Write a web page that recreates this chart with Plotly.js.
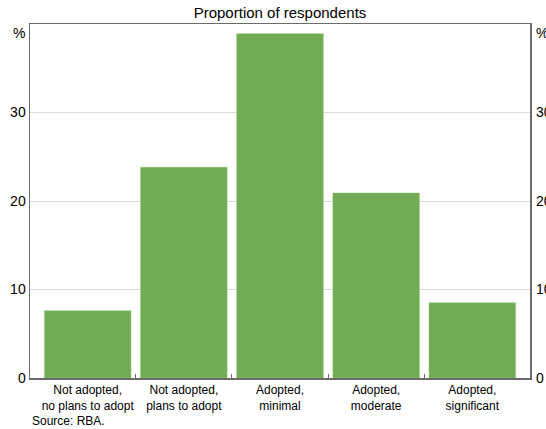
<!DOCTYPE html>
<html>
<head>
<meta charset="utf-8">
<script src="https://cdn.plot.ly/plotly-3.0.1.min.js"></script>
<style>html,body{margin:0;padding:0;background:#fff;}#chart{width:546px;height:429px;}</style>
</head>
<body>
<div id="chart"></div>
<script>
const categories = [
  "Not adopted,<br>no plans to adopt",
  "Not adopted,<br>plans to adopt",
  "Adopted,<br>minimal",
  "Adopted,<br>moderate",
  "Adopted,<br>significant"
];
const values = [7.6, 23.8, 38.9, 20.9, 8.5];
const yTicks = [0, 10, 20, 30];
const boundaryTicks = [0.5, 1.5, 2.5, 3.5];

const font = "Liberation Sans, Arial, sans-serif";
const green = "#72ac56";
const frame = "#6b6b6b";

const traces = [
  {
    type: "bar",
    x: categories.map((c, i) => i),
    y: values,
    marker: {color: green, line: {color: "#8cc070", width: 0.5}},
    hoverinfo: "skip"
  },
  {
    type: "scatter",
    mode: "markers",
    x: categories.map((c, i) => i),
    y: values,
    xaxis: "x2",
    yaxis: "y2",
    marker: {opacity: 0},
    hoverinfo: "skip"
  }
];

const layout = {
  width: 546,
  height: 429,
  margin: {l: 30, r: 16, t: 24, b: 51},
  paper_bgcolor: "#fff",
  plot_bgcolor: "#fff",
  showlegend: false,
  bargap: 0.1,
  font: {family: font, size: 14, color: "#000"},
  title: {
    text: "Proportion of respondents",
    font: {family: font, size: 15, color: "#000"},
    x: 0.5, xanchor: "center", xref: "paper",
    y: 1, yref: "container", yanchor: "top", pad: {t: 7}
  },
  xaxis: {
    range: [-0.6, 4.6],
    tickmode: "array",
    tickvals: categories.map((c, i) => i),
    ticktext: categories,
    ticks: "",
    tickfont: {family: font, size: 12, color: "#000"},
    showline: true, mirror: true, linecolor: frame, linewidth: 1.5,
    showgrid: false, zeroline: false, fixedrange: true
  },
  xaxis2: {
    overlaying: "x",
    anchor: "y2",
    side: "bottom",
    range: [-0.6, 4.6],
    tickmode: "array",
    tickvals: boundaryTicks,
    ticks: "inside",
    ticklen: 4,
    tickcolor: frame,
    tickwidth: 1,
    showticklabels: false,
    showline: false, showgrid: false, zeroline: false
  },
  yaxis: {
    range: [0, 40],
    tickmode: "array",
    tickvals: yTicks,
    ticks: "",
    tickfont: {family: font, size: 14, color: "#000"},
    showgrid: true, gridcolor: "#dcdcdc", gridwidth: 1,
    showline: true, mirror: true, linecolor: frame, linewidth: 1.5,
    zeroline: false, fixedrange: true
  },
  yaxis2: {
    overlaying: "y",
    anchor: "x2",
    side: "right",
    range: [0, 40],
    tickmode: "array",
    tickvals: yTicks,
    ticks: "",
    ticklabelstandoff: 5,
    tickfont: {family: font, size: 14, color: "#000"},
    showgrid: false, showline: false, zeroline: false
  },
  annotations: [
    {text: "%", xref: "paper", yref: "paper", x: 0, y: 1, xanchor: "right", yanchor: "top", xshift: -3, yshift: 1, showarrow: false, font: {family: font, size: 14, color: "#000"}},
    {text: "%", xref: "paper", yref: "paper", x: 1, y: 1, xanchor: "left", yanchor: "top", xshift: 4, yshift: 1, showarrow: false, font: {family: font, size: 14, color: "#000"}},
    {text: "Source: RBA.", xref: "paper", yref: "paper", x: 0, y: -0.121, xanchor: "left", yanchor: "middle", showarrow: false, font: {family: font, size: 12, color: "#000"}}
  ]
};

Plotly.newPlot("chart", traces, layout, {displayModeBar: false, staticPlot: true});
</script>
</body>
</html>
